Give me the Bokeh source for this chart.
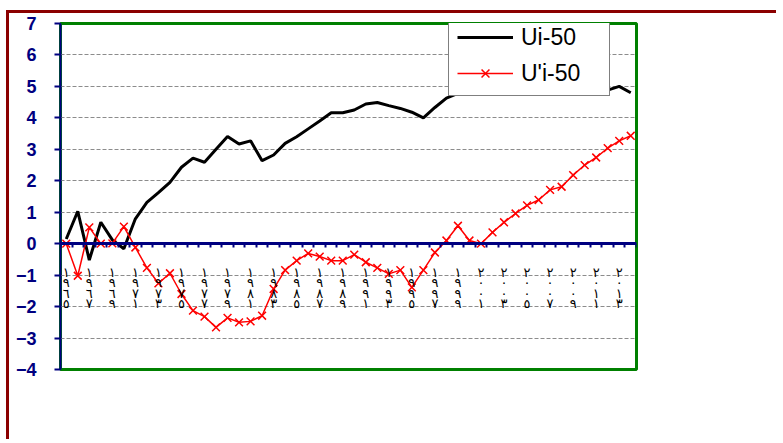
from bokeh.plotting import figure
from bokeh.models import Range1d, FixedTicker, Legend, LegendItem
from bokeh.embed import file_html
from bokeh.resources import INLINE

# ---- data ----
years = [1965, 1966, 1967, 1968, 1969, 1970, 1971, 1972, 1973, 1974,
         1975, 1976, 1977, 1978, 1979, 1980, 1981, 1982, 1983, 1984,
         1985, 1986, 1987, 1988, 1989, 1990, 1991, 1992, 1993, 1994,
         1995, 1996, 1997, 1998, 1999, 2000, 2001, 2002, 2003, 2004,
         2005, 2006, 2007, 2008, 2009, 2010, 2011, 2012, 2013, 2014]

ui_50 = [0.15, 1.03, -0.52, 0.68, 0.12, -0.16, 0.79, 1.31, 1.62, 1.95,
         2.43, 2.72, 2.59, 3.00, 3.41, 3.17, 3.27, 2.64, 2.82, 3.19,
         3.40, 3.65, 3.90, 4.16, 4.16, 4.25, 4.44, 4.49, 4.39, 4.30,
         4.18, 4.00, 4.33, 4.63, 4.78, 4.85, 4.90, 5.00, 5.05, 5.10,
         5.00, 4.95, 5.05, 5.10, 5.00, 4.95, 4.90, 4.88, 5.00, 4.80]

upi_50 = [0.00, -1.02, 0.52, 0.00, 0.01, 0.54, -0.12, -0.77, -1.26, -0.94,
          -1.60, -2.13, -2.32, -2.66, -2.36, -2.50, -2.47, -2.29, -1.44, -0.84,
          -0.54, -0.31, -0.41, -0.54, -0.54, -0.35, -0.59, -0.77, -0.96, -0.84,
          -1.39, -0.84, -0.28, 0.10, 0.57, 0.10, 0.00, 0.36, 0.68, 0.96,
          1.22, 1.39, 1.71, 1.81, 2.18, 2.50, 2.74, 3.04, 3.27, 3.43]

tick_labels = ["١٩٦٥", "١٩٦٧", "١٩٦٩", "١٩٧١", "١٩٧٣", "١٩٧٥", "١٩٧٧",
               "١٩٧٩", "١٩٨١", "١٩٨٣", "١٩٨٥", "١٩٨٧", "١٩٨٩", "١٩٩١",
               "١٩٩٣", "١٩٩٥", "١٩٩٧", "١٩٩٩", "٢٠٠١", "٢٠٠٣", "٢٠٠٥",
               "٢٠٠٧", "٢٠٠٩", "٢٠١١", "٢٠١٣"]

y_ticks = [-4, -3, -2, -1, 0, 1, 2, 3, 4, 5, 6, 7]

NAVY = "#000080"

x = list(range(len(years)))

p = figure(frame_width=576, frame_height=346,
           output_backend="svg", toolbar_location=None,
           x_range=Range1d(-0.5, len(years) - 0.5),
           y_range=Range1d(y_ticks[0], y_ticks[-1]),
           min_border_left=51, min_border_top=10,
           min_border_right=140, min_border_bottom=70,
           background_fill_color="white", border_fill_color="white")

p.styles = {"border-left": "3px solid #8B0000", "border-top": "3px solid #8B0000",
            "margin-left": "6px", "margin-top": "10px"}

p.outline_line_color = "#008000"
p.outline_line_width = 3

# y axis
p.yaxis.ticker = FixedTicker(ticks=y_ticks)
p.yaxis.axis_line_color = NAVY
p.yaxis.axis_line_width = 2
p.yaxis.major_tick_line_color = NAVY
p.yaxis.major_tick_line_width = 2
p.yaxis.major_tick_out = 6
p.yaxis.major_tick_in = 0
p.yaxis.minor_tick_line_color = None
p.yaxis.major_label_text_font = "Liberation Sans"
p.yaxis.major_label_text_font_style = "bold"
p.yaxis.major_label_text_font_size = "18px"
p.yaxis.major_label_text_color = NAVY
p.yaxis.major_label_standoff = 18

# grid
p.xgrid.grid_line_color = None
p.ygrid.ticker = FixedTicker(ticks=y_ticks)
p.ygrid.grid_line_color = "#8c8c8c"
p.ygrid.grid_line_dash = "4 2"
p.ygrid.grid_line_width = 1.2

# x axis at y = 0
labeled_pos = x[::2]
xa = p.xaxis[0]
xa.fixed_location = 0
xa.ticker = FixedTicker(ticks=labeled_pos,
                        minor_ticks=[i - 0.5 for i in x] + [x[-1] + 0.5])
xa.major_label_overrides = {pos: "\n".join(lbl) for pos, lbl in zip(labeled_pos, tick_labels)}
xa.axis_line_color = NAVY
xa.axis_line_width = 3
xa.major_tick_out = 0
xa.major_tick_in = 0
xa.minor_tick_line_color = NAVY
xa.minor_tick_line_width = 2
xa.minor_tick_out = 4
xa.minor_tick_in = 0
xa.major_label_text_font = "DejaVu Sans"
xa.major_label_text_font_size = "13px"
xa.major_label_text_line_height = 0.7
xa.major_label_text_color = "black"
xa.major_label_standoff = 17

# series
r1 = p.line(x, ui_50, line_color="black", line_width=3)
r2 = p.line(x, upi_50, line_color="#FF0000", line_width=1.5)
r3 = p.scatter(x, upi_50, marker="x", size=11, line_color="#FF0000", line_width=1.5)

legend = Legend(items=[LegendItem(label="Ui-50", renderers=[r1]),
                       LegendItem(label="U'i-50", renderers=[r2, r3])],
                location=(388, 273), orientation="vertical")
legend.label_text_font = "Liberation Sans"
legend.label_text_font_size = "23px"
legend.label_text_color = "black"
legend.border_line_color = "black"
legend.border_line_width = 1
legend.background_fill_color = "white"
legend.background_fill_alpha = 1.0
legend.padding = 8
legend.margin = 0
legend.spacing = 8
legend.glyph_width = 56
legend.glyph_height = 28
legend.label_height = 28
legend.label_width = 80
legend.label_standoff = 8
p.add_layout(legend, "center")

open("out.html", "w").write(file_html(p, INLINE))
